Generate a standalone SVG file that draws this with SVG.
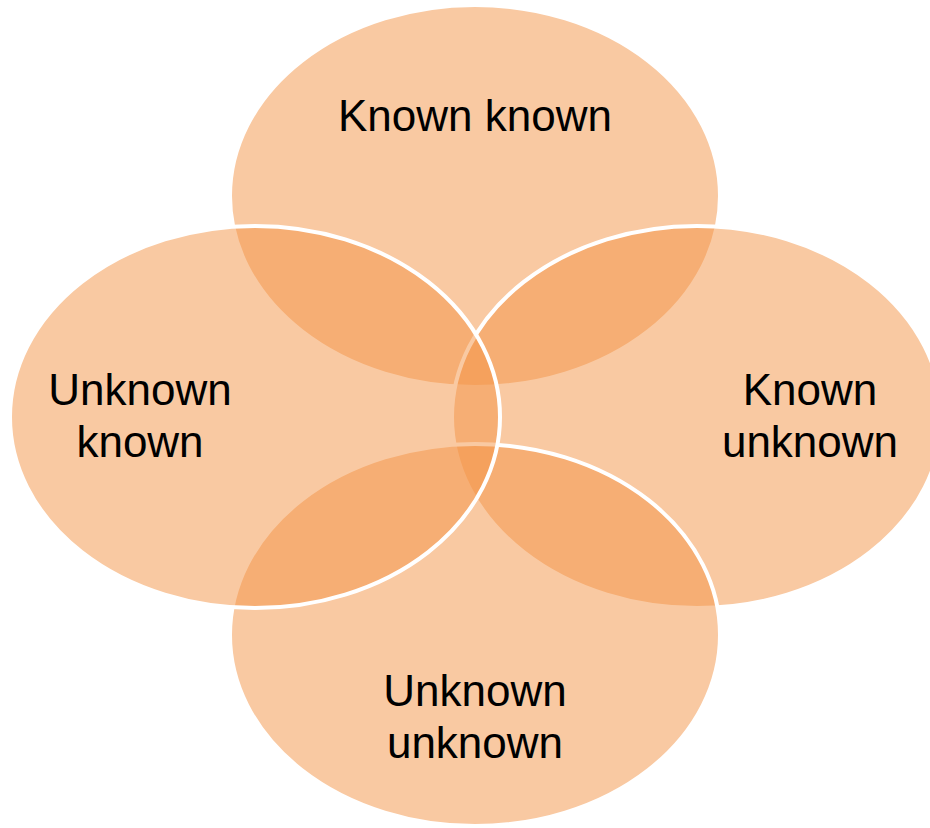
<svg xmlns="http://www.w3.org/2000/svg" width="930" height="828" viewBox="0 0 930 828">
<style>
.c{fill:#F39345;fill-opacity:0.5;stroke:#FFFFFF;stroke-width:4}
.t{font-family:"Liberation Sans",Arial,sans-serif;font-size:44px;fill:#000000;text-anchor:middle}
</style>
<rect width="930" height="828" fill="#FFFFFF"/>
<g id="node-top"><ellipse class="c" cx="475" cy="196" rx="245" ry="191"/></g>
<g id="node-right"><ellipse class="c" cx="697" cy="417" rx="245" ry="191"/></g>
<g id="node-bottom"><ellipse class="c" cx="475" cy="635" rx="245" ry="191"/></g>
<g id="node-left"><ellipse class="c" cx="255" cy="417" rx="245" ry="191"/></g>
<g id="labels">
<text class="t" x="475" y="131">Known known</text>
<text class="t" x="810" y="405">Known</text>
<text class="t" x="810" y="457">unknown</text>
<text class="t" x="475" y="706">Unknown</text>
<text class="t" x="475" y="758">unknown</text>
<text class="t" x="140" y="405">Unknown</text>
<text class="t" x="140" y="457">known</text>
</g>
<g id="connectors"/>
</svg>
